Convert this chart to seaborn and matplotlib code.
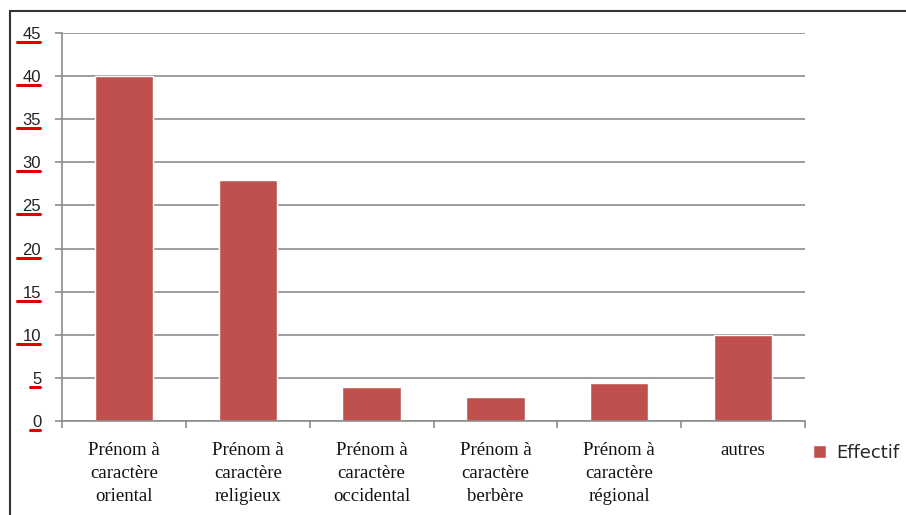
import matplotlib
matplotlib.use("Agg")
import matplotlib.pyplot as plt
import matplotlib.transforms as mtransforms
from matplotlib.lines import Line2D
import seaborn as sns
import pandas as pd

categories = ["Prénom à\ncaractère\noriental", "Prénom à\ncaractère\nreligieux",
              "Prénom à\ncaractère\noccidental", "Prénom à\ncaractère\nberbère",
              "Prénom à\ncaractère\nrégional", "autres"]
effectif = [40, 28, 4, 2.8, 4.4, 10]
yticks = [0, 5, 10, 15, 20, 25, 30, 35, 40, 45]
series_name = "Effectif"

df = pd.DataFrame({"cat": categories, "val": effectif, "serie": series_name})

sns.set_theme(style="white")
plt.rcParams["font.family"] = ["DejaVu Sans"]

fig = plt.figure(figsize=(9.06, 5.15), dpi=100)
ax = fig.add_axes([62/906, 94/515, (805-62)/906, (421-33)/515])

sns.barplot(data=df, x="cat", y="val", hue="serie", palette=["#C0504D"],
            width=0.47, ax=ax, legend=True, saturation=1)

ax.set_ylim(0, 45)
ax.set_xlim(-0.5, len(categories) - 0.5)
ax.set_yticks(yticks)
ax.set_yticklabels([str(t) for t in yticks], fontsize=12, color="#222222",
                   family="Liberation Sans")
ax.yaxis.grid(True, color="#8c8c8c", linewidth=1.2)
ax.set_axisbelow(True)
ax.set_xlabel("")
ax.set_ylabel("")

# category ticks at boundaries (Excel style)
ax.set_xticks([i - 0.5 for i in range(len(categories) + 1)])
ax.set_xticklabels([])
ax.tick_params(axis="x", which="major", length=5, color="#8c8c8c", width=1.2,
               direction="out", bottom=True)
ax.set_xticks(range(len(categories)), minor=True)
ax.set_xticklabels(categories, minor=True, family="Liberation Serif", fontsize=13.5,
                   color="#111111", linespacing=1.45, va="top")
ax.tick_params(axis="x", which="minor", length=0, pad=15, bottom=True)
ax.tick_params(axis="y", length=5, color="#8c8c8c", width=1.2, direction="out",
               pad=10, left=True)

for s in ["top", "right"]:
    ax.spines[s].set_visible(False)
for s in ["left", "bottom"]:
    ax.spines[s].set_color("#8c8c8c")
    ax.spines[s].set_linewidth(1.2)

# red spell-check underlines under y tick labels
trans = mtransforms.blended_transform_factory(fig.transFigure, ax.transData)
off = mtransforms.offset_copy(trans, fig=fig, x=0, y=-9, units="dots")
for t in yticks:
    x0 = 17 / 906 if len(str(t)) > 1 else 30 / 906
    ax.add_line(Line2D([x0, 40/906], [t, t], transform=off, color="#e00000",
                       linewidth=2.2, clip_on=False))

leg = ax.legend(loc="center left", bbox_to_anchor=(813/906, 1 - 453/515),
                bbox_transform=fig.transFigure, frameon=False,
                fontsize=13, handlelength=0.7, handleheight=0.7, handletextpad=0.6,
                borderaxespad=0, borderpad=0)

# figure border (top and left visible)
fig.add_artist(Line2D([10/906, 1], [1 - 11/515, 1 - 11/515], transform=fig.transFigure,
                      color="#333333", linewidth=1.5))
fig.add_artist(Line2D([10/906, 10/906], [0, 1 - 11/515], transform=fig.transFigure,
                      color="#333333", linewidth=1.5))

fig.savefig("out.png", dpi=100)
